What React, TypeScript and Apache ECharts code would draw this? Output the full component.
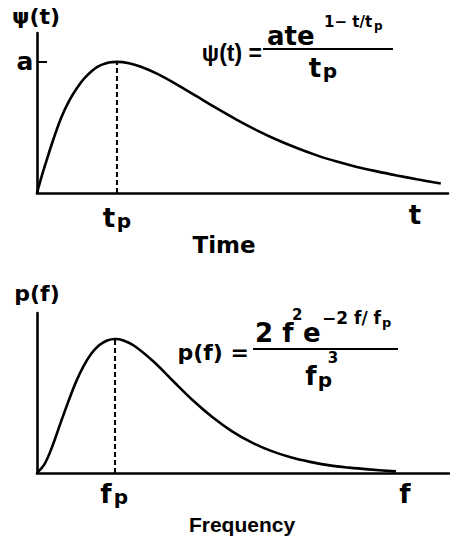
import React, { useEffect, useRef } from "react";
import * as echarts from "echarts";

// ---- Data (t in units of tp, ψ in units of a) ----
const timeValues = [0, 0.05, 0.1, 0.2, 0.3, 0.4, 0.5, 0.6, 0.75, 0.9, 1.0, 1.15, 1.3, 1.5, 1.75, 2.0, 2.25, 2.5, 2.75, 3.0, 3.25, 3.5, 3.75, 4.0, 4.25, 4.5, 4.75, 5.05];
const psiValues = [0, 0.11, 0.21, 0.4, 0.57, 0.7, 0.8, 0.88, 0.96, 0.995, 1.0, 0.99, 0.963, 0.91, 0.827, 0.736, 0.645, 0.558, 0.478, 0.406, 0.343, 0.287, 0.24, 0.199, 0.165, 0.134, 0.105, 0.072];

// ---- Frequency spectrum (f in units of fp, p in units of peak) ----
const freqValues = [0, 0.1, 0.2, 0.3, 0.4, 0.5, 0.6, 0.7, 0.8, 0.9, 1.0, 1.1, 1.25, 1.5, 1.75, 2.0, 2.25, 2.5, 2.75, 3.0, 3.25, 3.5, 3.75, 4.0, 4.25, 4.6];
const pValues = [0, 0.07, 0.205, 0.37, 0.531, 0.68, 0.801, 0.893, 0.955, 0.989, 1.0, 0.991, 0.948, 0.828, 0.683, 0.541, 0.416, 0.311, 0.228, 0.165, 0.117, 0.083, 0.057, 0.04, 0.027, 0.012];

const timePeak = 1; // tp
const psiPeak = 1; // a
const freqPeak = 1; // fp
const pPeak = 1;

const topAxisMax = { x: 5.14, y: 1.22 };
const bottomAxisMax = { x: 5.28, y: 1.194 };

const DJ = '"DejaVu Sans"';
const LIB = '"Liberation Sans"';

function txt(text: string, x: number, y: number, size: number, align: string = "center", family: string = DJ) {
  return {
    type: "text",
    x,
    y,
    silent: true,
    style: {
      text,
      fill: "#000",
      font: `bold ${size}px ${family}`,
      align,
      verticalAlign: "middle",
    },
  };
}

function hline(x1: number, x2: number, y: number) {
  return {
    type: "line",
    silent: true,
    shape: { x1, y1: y, x2, y2: y },
    style: { stroke: "#000", lineWidth: 2 },
  };
}

export default function App() {
  const ref = useRef<HTMLDivElement>(null);

  useEffect(() => {
    if (!ref.current) return;
    const chart = echarts.init(ref.current, null, { renderer: "svg" });

    const axisLine = { show: true, lineStyle: { color: "#000", width: 2.6 } };
    const hidden = { show: false };

    const option: any = {
      animation: false,
      backgroundColor: "#fff",
      grid: [
        { left: 37, top: 33, width: 411, height: 160 },
        { left: 37, top: 313, width: 412, height: 160 },
      ],
      xAxis: [
        { type: "value", gridIndex: 0, min: 0, max: topAxisMax.x, axisLine, axisTick: hidden, axisLabel: hidden, splitLine: hidden },
        { type: "value", gridIndex: 1, min: 0, max: bottomAxisMax.x, axisLine, axisTick: hidden, axisLabel: hidden, splitLine: hidden },
      ],
      yAxis: [
        {
          type: "value",
          gridIndex: 0,
          min: 0,
          max: topAxisMax.y,
          axisLine,
          axisTick: { show: true, inside: true, length: 10, customValues: [psiPeak], lineStyle: { color: "#000", width: 2 } },
          axisLabel: hidden,
          splitLine: hidden,
        },
        { type: "value", gridIndex: 1, min: 0, max: bottomAxisMax.y, axisLine, axisTick: hidden, axisLabel: hidden, splitLine: hidden },
      ],
      series: [
        {
          type: "line",
          xAxisIndex: 0,
          yAxisIndex: 0,
          data: timeValues.map((t, i) => [t, psiValues[i]]),
          smooth: 0.35,
          symbol: "none",
          lineStyle: { color: "#000", width: 2.6 },
        },
        {
          type: "line",
          xAxisIndex: 0,
          yAxisIndex: 0,
          data: [[timePeak, 0], [timePeak, psiPeak]],
          symbol: "none",
          lineStyle: { color: "#000", width: 2, type: [5, 3] },
        },
        {
          type: "line",
          xAxisIndex: 1,
          yAxisIndex: 1,
          data: freqValues.map((f, i) => [f, pValues[i]]),
          smooth: 0.35,
          symbol: "none",
          lineStyle: { color: "#000", width: 2.6 },
        },
        {
          type: "line",
          xAxisIndex: 1,
          yAxisIndex: 1,
          data: [[freqPeak, 0], [freqPeak, pPeak]],
          symbol: "none",
          lineStyle: { color: "#000", width: 2, type: [5, 3] },
        },
      ],
      graphic: [
        // top panel labels
        txt("ψ(t)", 36, 16, 22),
        txt("a", 25, 61, 25),
        txt("t", 109, 218, 26),
        txt("p", 124, 221, 20),
        txt("t", 415, 215, 26),
        txt("Time", 224, 245, 23),
        // top formula
        txt("ψ(t) =", 262, 53, 23, "right", LIB),
        hline(263, 393, 49),
        txt("ate", 267, 36, 26, "left"),
        txt("1− t/t", 324, 22, 15, "left"),
        txt("p", 374, 26, 12, "left"),
        txt("t", 315, 68, 26),
        txt("p", 330, 71, 20),
        // bottom panel labels
        txt("p(f)", 37, 293, 22),
        txt("f", 106, 494, 26),
        txt("p", 121, 497, 20),
        txt("f", 405, 494, 26),
        txt("Frequency", 242, 524, 21, "center", LIB),
        // bottom formula
        txt("p(f) =", 249, 352, 22, "right"),
        hline(253, 398, 349),
        txt("2 f", 255, 333, 26, "left"),
        txt("2", 292, 315, 15, "left"),
        txt("e", 303, 333, 26, "left"),
        txt("−2 f/ f", 322, 318, 17, "left"),
        txt("p", 382, 322, 13, "left"),
        txt("f", 311, 376, 26),
        txt("p", 325, 380, 20),
        txt("3", 333, 358, 15),
      ],
    };

    chart.setOption(option);
    return () => chart.dispose();
  }, []);

  return (
    <div
      ref={ref}
      style={{ position: "fixed", left: 0, top: 0, width: 450, height: 546, background: "#fff" }}
    />
  );
}
